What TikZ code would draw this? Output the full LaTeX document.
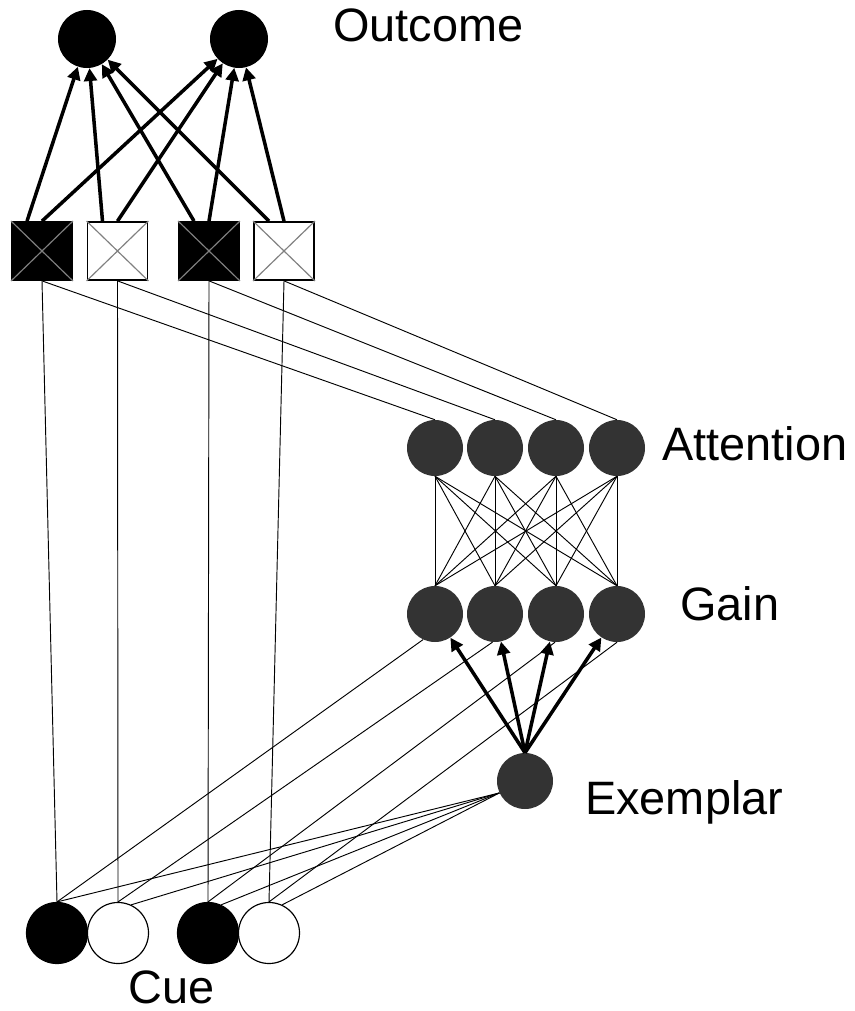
\documentclass[tikz,border=0pt]{standalone}
\usepackage{fontspec}
\setmainfont{Liberation Sans}
\usetikzlibrary{arrows.meta}

\definecolor{unitgray}{HTML}{333333}

\tikzset{
    unit/.style={circle, fill=unitgray, minimum size=1.68cm, inner sep=0pt},
    outunit/.style={circle, fill=black, minimum size=1.74cm, inner sep=0pt},
    cue/.style={circle, draw=black, line width=1pt, minimum size=1.83cm, inner sep=0pt},
    box/.style={rectangle, draw=black, line width=1.5pt, minimum width=1.8cm, minimum height=1.74cm, inner sep=0pt},
    wire/.style={line width=0.8pt},
    weight/.style={line width=3pt, -{Triangle[length=11pt,width=11pt]}},
    lbl/.style={font=\fontsize{40}{48}\selectfont, inner sep=0pt, anchor=base west},
}

\begin{document}
\begin{tikzpicture}[x=0.03cm, y=-0.03cm]
    \useasboundingbox (0,0) rectangle (854,1011);

    % outcome layer
    \node[outunit] (o1) at (87,39) {};
    \node[outunit] (o2) at (239,39) {};
    \node[lbl] (outlbl) at (333,42) {Outcome};

    % configural boxes
    \foreach \i/\x/\f in {1/42/black, 2/117.5/white, 3/209/black, 4/284/white} {
        \node[box, fill=\f] (s\i) at (\x,251) {};
        \draw[gray, line width=1pt] (s\i.north west) -- (s\i.south east)
                                    (s\i.north east) -- (s\i.south west);
    }

    % attention and gain
    \foreach \i/\x in {1/435, 2/495, 3/556, 4/617} {
        \node[unit] (a\i) at (\x,448) {};
        \node[unit] (g\i) at (\x,614) {};
    }
    \node[lbl] (attlbl) at (662,460) {Attention};
    \node[lbl] (gainlbl) at (680,620) {Gain};

    \node[unit] (ex) at (525,781) {};
    \node[lbl] (exlbl) at (585,814) {Exemplar};

    % cues
    \foreach \i/\x/\f in {1/57/black, 2/118/white, 3/208/black, 4/269/white}
        \node[cue, fill=\f] (c\i) at (\x,933) {};
    \node[lbl] (cuelbl) at (128,1003) {Cue};

    % connections
    \foreach \i/\a/\b in {1/90/245, 2/65/265, 3/65/268, 4/65/270} {
        \draw[weight] ([xshift=-0.45cm]s\i.north) -- (o1);
        \draw[weight] (s\i.north) -- (o2);
        \draw[wire] (s\i.south) -- (c\i.north);
        \draw[wire] (s\i.south) -- (a\i.north);
        \draw[wire] (c\i.north) -- (g\i.\b);
        \draw[wire] (c\i.\a) -- (ex.205);
        \draw[weight] (ex.north) -- (g\i);
        \foreach \j in {1,...,4}
            \draw[wire] (a\i.south) -- (g\j.north);
    }
\end{tikzpicture}
\end{document}
